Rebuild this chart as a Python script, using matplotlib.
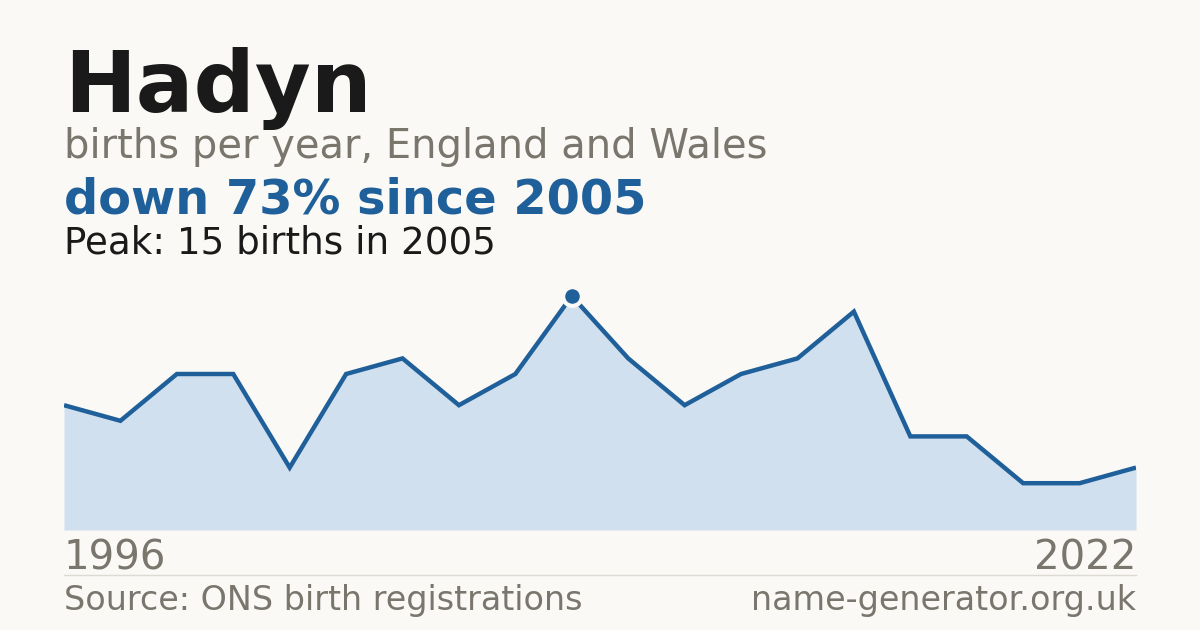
import numpy as np
import matplotlib
matplotlib.use("Agg")
import matplotlib.pyplot as plt

# Data (births per year)
births = [8, 7, 10, 10, 4, 10, 11, 8, 10, 15, 11, 8, 10, 11, 14, 6, 6, 3, 3, 4]
first_year = "1996"
last_year = "2022"
peak_idx = 9

bg = "#faf9f5"
blue = "#20609a"
fill = "#d0e0ef"
grey = "#7a756d"

W, H = 1200, 630
fig = plt.figure(figsize=(12, 6.3), dpi=100, facecolor=bg)

# plot area in pixels: x 64..1136, baseline at y=530
left, right, bottom = 64, 1136, 530
ymax = 16
top = bottom - ymax * 15.6
ax = fig.add_axes([left / W, 1 - bottom / H, (right - left) / W, (bottom - top) / H])
ax.set_facecolor(bg)
x = np.arange(len(births))
ax.fill_between(x, births, 0, color=fill, lw=0)
ax.plot(x, births, color=blue, lw=3.2, solid_joinstyle="miter", solid_capstyle="butt")
ax.plot(x[peak_idx], births[peak_idx], "o", ms=13.5, color=blue, mec=bg, mew=3)
ax.set_xlim(0, len(births) - 1)
ax.set_ylim(0, ymax)
ax.axis("off")


def txt(px, py, s, size, color, weight="normal", ha="left"):
    fig.text(px / W, 1 - py / H, s, fontsize=size, color=color, fontweight=weight,
             ha=ha, va="baseline", family="DejaVu Sans")


txt(64, 112, "Hadyn", 61.7, "#1a1a1a", "bold")
txt(64, 158, "births per year, England and Wales", 28.8, grey)
txt(64, 214, "down 73% since 2005", 34.5, blue, "bold")
txt(64, 253, "Peak: 15 births in 2005", 26.8, "#1a1a1a")
txt(64, 570, first_year, 29, grey)
txt(1136, 570, last_year, 29, grey, ha="right")
txt(64, 610, "Source: ONS birth registrations", 24, grey)
txt(1136, 610, "name-generator.org.uk", 24, grey, ha="right")

fig.add_artist(plt.Line2D([64 / W, 1136 / W], [1 - 574.5 / H, 1 - 574.5 / H],
                          color="#dddad3", lw=1))

fig.savefig("out.png", dpi=100, facecolor=bg)
